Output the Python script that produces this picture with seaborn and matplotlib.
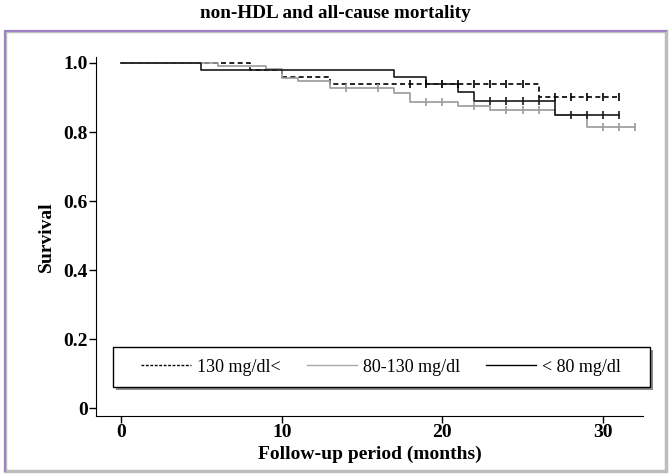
import numpy as np
import pandas as pd
import matplotlib
matplotlib.use("Agg")
import matplotlib.pyplot as plt
from matplotlib.lines import Line2D
from matplotlib.patches import Rectangle
import seaborn as sns

# ========================
# Kaplan-Meier step data
# ========================
groups = ["130 mg/dl<", "80-130 mg/dl", "< 80 mg/dl"]

t_high = [0, 8, 10, 13, 26, 31]
s_high = [1.0, 0.981, 0.959, 0.938, 0.901, 0.901]
c_high = [18, 19, 20, 21, 22, 23, 24, 25, 27, 28, 29, 30, 31]

t_mid = [0, 6, 9, 10, 11, 13, 17, 18, 21, 23, 27, 29, 32]
s_mid = [1.0, 0.992, 0.983, 0.957, 0.949, 0.927, 0.914, 0.888, 0.876, 0.864, 0.850, 0.814, 0.814]
c_mid = [14, 16, 19, 20, 22, 24, 25, 26, 30, 31, 32]

t_low = [0, 5, 17, 19, 21, 22, 27, 31]
s_low = [1.0, 0.981, 0.959, 0.939, 0.915, 0.891, 0.849, 0.849]
c_low = [20, 23, 24, 25, 26, 28, 29, 30, 31]

colors = ["#000000", "#9a9a9a", "#1a1a1a"]
styles = [(0, (3, 2)), "-", "-"]

plt.rcParams["font.family"] = ["Liberation Serif", "DejaVu Serif"]

fig = plt.figure(figsize=(6.69, 4.76), dpi=100)
ax = fig.add_axes([0.144, 0.126, 0.817, 0.754])


def step_value(times, surv, t):
    idx = np.searchsorted(times, t, side="right") - 1
    return surv[idx]


series = [(t_high, s_high, c_high), (t_mid, s_mid, c_mid), (t_low, s_low, c_low)]
for (t, s, c), col, ls in zip(series, colors, styles):
    df = pd.DataFrame({"time": t, "surv": s})
    sns.lineplot(data=df, x="time", y="surv", ax=ax, drawstyle="steps-post",
                 color=col, linestyle=ls, linewidth=1.2, errorbar=None)
    cdf = pd.DataFrame({"time": c, "surv": [step_value(t, s, x) for x in c]})
    sns.scatterplot(data=cdf, x="time", y="surv", ax=ax, marker="|", s=30,
                    color=col, linewidth=1.2, zorder=3)

ax.set_xlim(-1.55, 32.5)
ax.set_ylim(-0.023, 1.017)
ax.set_xticks([0, 10, 20, 30])
ax.set_yticks([0, 0.2, 0.4, 0.6, 0.8, 1.0])
ax.set_yticklabels(["0", "0.2", "0.4", "0.6", "0.8", "1.0"])
for lab in ax.get_xticklabels() + ax.get_yticklabels():
    lab.set_fontweight("bold")
    lab.set_fontsize(14)
ax.tick_params(direction="out", length=5, width=1, pad=1)
ax.spines["top"].set_visible(False)
ax.spines["right"].set_visible(False)
ax.set_xlabel("Follow-up period (months)", fontsize=14, fontweight="bold", labelpad=3)
ax.set_ylabel("Survival", fontsize=14, fontweight="bold", labelpad=6)

# legend box with drop shadow
bx, by, bw, bh = 0.0302, 0.0808, 0.9826, 0.1112
ax.add_patch(Rectangle((bx + 0.006, by - 0.009), bw, bh, transform=ax.transAxes,
                       facecolor="#8c8c8c", edgecolor="none", clip_on=False, zorder=4))
ax.add_patch(Rectangle((bx, by), bw, bh, transform=ax.transAxes,
                       facecolor="white", edgecolor="black", linewidth=1,
                       clip_on=False, zorder=5))

handles = [Line2D([], [], color="#000000", linestyle=(0, (2, 1.2)), linewidth=1),
           Line2D([], [], color="#aaaaaa", linestyle="-", linewidth=1),
           Line2D([], [], color="#000000", linestyle="-", linewidth=1)]
leg = ax.legend(handles, groups, ncol=3, loc="center",
                bbox_to_anchor=(bx + bw / 2, by + bh / 2), fontsize=13,
                handlelength=2.75, handletextpad=0.35, columnspacing=1.45,
                borderpad=0, borderaxespad=0, frameon=False)
leg.set_zorder(6)

# outer frame
fig.add_artist(Rectangle((0.008, 0.01), 0.987, 0.925, transform=fig.transFigure,
                         fill=False, edgecolor="#bdbdbd", linewidth=2.5))
fig.add_artist(Line2D([0.008, 0.008, 0.995], [0.01, 0.935, 0.935], transform=fig.transFigure,
                      color="#9c7cc8", linewidth=1.3))

fig.text(0.502, 0.971, "non-HDL and all-cause mortality", ha="center", va="center",
         fontsize=13.8, fontweight="bold")

plt.savefig("out.png", dpi=100)
